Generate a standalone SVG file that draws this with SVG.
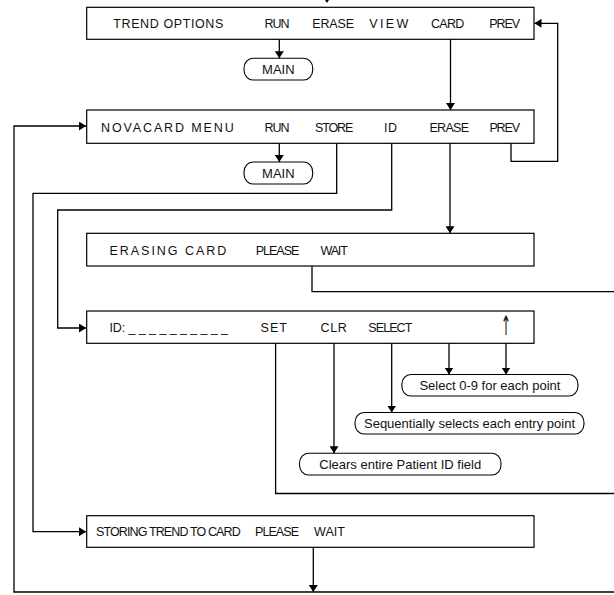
<svg xmlns="http://www.w3.org/2000/svg" width="614" height="595" viewBox="0 0 614 595">
  <style>
    .box { fill: #ffffff; stroke: #000000; stroke-width: 1.2; }
    .pill { fill: #ffffff; stroke: #000000; stroke-width: 1.1; }
    .menu { font-family: "Liberation Sans", Arial, sans-serif; font-size: 12.5px; fill: #111111; }
    .note { font-family: "Liberation Sans", Arial, sans-serif; font-size: 13px; fill: #111111; text-anchor: middle; }
    .glyph { font-family: "DejaVu Sans", sans-serif; font-size: 20px; fill: #111111; text-anchor: middle; }
    .wire { fill: none; stroke: #000000; stroke-width: 1.3; }
    .arrow { fill: none; stroke: #000000; stroke-width: 1.3; marker-end: url(#head); }
  </style>
  <defs>
    <marker id="head" markerUnits="userSpaceOnUse" markerWidth="8" markerHeight="9" refX="7" refY="4.5" orient="auto">
      <path d="M0,0 L7,4.5 L0,9 z" fill="#000000"/>
    </marker>
  </defs>

  <rect width="614" height="595" fill="#ffffff"/>

  <!-- connectors -->
  <g id="connectors">
    <!-- incoming from above -->
    <polygon points="322.5,-4 331.5,-4 327,3" fill="#000000"/>
    <!-- trend options -->
    <line class="arrow" x1="279.3" y1="39.3" x2="279.3" y2="58.3"/>
    <line class="arrow" x1="450.5" y1="39.3" x2="450.5" y2="110"/>
    <!-- novacard PREV back to trend options -->
    <polyline class="arrow" points="511,143.3 511,161.3 557.7,161.3 557.7,23.3 534.5,23.3"/>
    <!-- return loop to novacard menu -->
    <polyline class="arrow" points="614,592 14,592 14,126 86,126"/>
    <!-- novacard menu -->
    <line class="arrow" x1="279.3" y1="143.3" x2="279.3" y2="162"/>
    <polyline class="arrow" points="336.7,143.3 336.7,193.3 33,193.3 33,531.7 86,531.7"/>
    <polyline class="arrow" points="391.7,143.3 391.7,210 57.7,210 57.7,328 86,328"/>
    <line class="arrow" x1="450" y1="143.3" x2="450" y2="233.3"/>
    <!-- erasing card done -->
    <polyline class="wire" points="312,266 312,291.7 614,291.7"/>
    <!-- ID entry -->
    <polyline class="wire" points="275.6,343.3 275.6,493.5 614,493.5"/>
    <line class="arrow" x1="334" y1="343.3" x2="334" y2="453.3"/>
    <line class="arrow" x1="391.7" y1="343.3" x2="391.7" y2="412.5"/>
    <line class="arrow" x1="449" y1="343.3" x2="449" y2="374.5"/>
    <line class="arrow" x1="506" y1="343.3" x2="506" y2="374.5"/>
    <!-- storing trend -->
    <line class="arrow" x1="313.3" y1="547.3" x2="313.3" y2="592"/>
  </g>

  <g id="trend-options">
    <rect class="box" x="86.7" y="7.3" width="447.3" height="32"/>
    <text class="menu" x="113.3" y="28" textLength="110" lengthAdjust="spacing">TREND OPTIONS</text>
    <text class="menu" x="264.5" y="28" textLength="25" lengthAdjust="spacing">RUN</text>
    <text class="menu" x="312.3" y="28" textLength="41.7" lengthAdjust="spacing">ERASE</text>
    <text class="menu" x="369.3" y="28" textLength="39" lengthAdjust="spacing">VIEW</text>
    <text class="menu" x="431" y="28" textLength="33.3" lengthAdjust="spacing">CARD</text>
    <text class="menu" x="489.3" y="28" textLength="30.7" lengthAdjust="spacing">PREV</text>
  </g>

  <g id="main-1">
    <rect class="pill" x="244" y="58.3" width="68.7" height="21.7" rx="9" ry="10"/>
    <text class="note" x="278.3" y="73.8">MAIN</text>
  </g>

  <g id="novacard-menu">
    <rect class="box" x="86.7" y="110" width="447.3" height="33.3"/>
    <text class="menu" x="101" y="131.5" textLength="132.7" lengthAdjust="spacing">NOVACARD MENU</text>
    <text class="menu" x="264.5" y="131.5" textLength="25" lengthAdjust="spacing">RUN</text>
    <text class="menu" x="315" y="131.5" textLength="38.3" lengthAdjust="spacing">STORE</text>
    <text class="menu" x="384" y="131.5" textLength="13" lengthAdjust="spacing">ID</text>
    <text class="menu" x="429.5" y="131.5" textLength="39.5" lengthAdjust="spacing">ERASE</text>
    <text class="menu" x="489.4" y="131.5" textLength="30.7" lengthAdjust="spacing">PREV</text>
  </g>

  <g id="main-2">
    <rect class="pill" x="244" y="162" width="68.7" height="22" rx="9" ry="10"/>
    <text class="note" x="278.3" y="177.7">MAIN</text>
  </g>

  <g id="erasing-card">
    <rect class="box" x="86.7" y="233.3" width="447.3" height="32.7"/>
    <text class="menu" x="109.4" y="254.8" textLength="117" lengthAdjust="spacing">ERASING CARD</text>
    <text class="menu" x="255.8" y="254.8" textLength="43.5" lengthAdjust="spacing">PLEASE</text>
    <text class="menu" x="320.5" y="254.8" textLength="27.3" lengthAdjust="spacing">WAIT</text>
  </g>

  <g id="id-entry">
    <rect class="box" x="86.7" y="311" width="447.3" height="32.3"/>
    <text class="menu" x="109.4" y="331.7" textLength="118.6" lengthAdjust="spacing">ID: _ _ _ _ _ _ _ _ _ _</text>
    <text class="menu" x="260.5" y="331.7" textLength="26.5" lengthAdjust="spacing">SET</text>
    <text class="menu" x="320.5" y="331.7" textLength="26.3" lengthAdjust="spacing">CLR</text>
    <text class="menu" x="368.3" y="331.7" textLength="44" lengthAdjust="spacing">SELECT</text>
    <!-- narrow, tall up-arrow key label -->
    <text class="glyph" transform="translate(506,335) scale(0.6,1.35)" x="0" y="0">↑</text>
  </g>

  <g id="select-digit">
    <rect class="pill" x="401.8" y="374.5" width="176.2" height="21.5" rx="9" ry="10"/>
    <text class="note" x="489.9" y="389.9">Select 0-9 for each point</text>
  </g>

  <g id="select-entry">
    <rect class="pill" x="355" y="412.5" width="229" height="21.5" rx="9" ry="10"/>
    <text class="note" x="469.5" y="427.9">Sequentially selects each entry point</text>
  </g>

  <g id="clear-id">
    <rect class="pill" x="299.5" y="453.3" width="201.5" height="21.7" rx="9" ry="10"/>
    <text class="note" x="400.2" y="468.8">Clears entire Patient ID field</text>
  </g>

  <g id="storing-trend">
    <rect class="box" x="86.7" y="515.7" width="447.3" height="31.6"/>
    <text class="menu" x="96" y="536" textLength="144.7" lengthAdjust="spacing">STORING TREND TO CARD</text>
    <text class="menu" x="255" y="536" textLength="44" lengthAdjust="spacing">PLEASE</text>
    <text class="menu" x="314" y="536" textLength="31" lengthAdjust="spacing">WAIT</text>
  </g>
</svg>
